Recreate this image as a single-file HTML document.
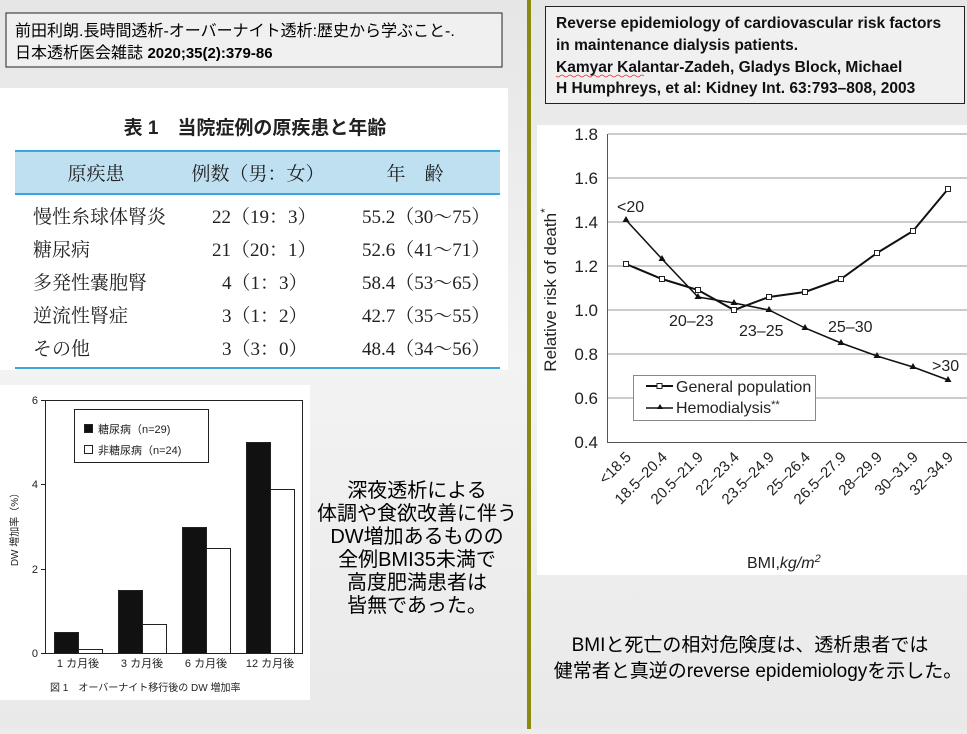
<!DOCTYPE html>
<html><head><meta charset="utf-8"><style>
html,body{margin:0;padding:0;}
body{width:967px;height:729px;overflow:hidden;background:#ececec;}
</style></head><body>
<svg width="967" height="729" viewBox="0 0 967 729" xmlns="http://www.w3.org/2000/svg" style="font-family:'Liberation Sans','Noto Sans CJK JP',sans-serif">
<defs><linearGradient id="bg" x1="0" y1="0" x2="0" y2="1"><stop offset="0" stop-color="#e6e6e6"/><stop offset="0.5" stop-color="#f3f3f3"/><stop offset="1" stop-color="#e9e9e9"/></linearGradient></defs>
<rect width="967" height="729" fill="url(#bg)"/>
<rect x="527" y="0" width="4" height="729" fill="#8a8a10"/>

<!-- left header -->
<rect x="6" y="13" width="496" height="54" fill="#f0f0f0" stroke="#222" stroke-width="1"/>
<text x="15" y="36" font-size="16" fill="#000">前田利朗.長時間透析-オーバーナイト透析:歴史から学ぶこと-.</text>
<text x="15" y="58" font-size="16" fill="#000">日本透析医会雑誌 <tspan font-weight="bold" font-size="15">2020;35(2):379-86</tspan></text>

<!-- table image -->
<rect x="0" y="88" width="508" height="282" fill="#fff"/>
<text x="255" y="134" font-size="19" text-anchor="middle" font-weight="bold" fill="#222">表 1　当院症例の原疾患と年齢</text>
<rect x="15" y="150" width="485" height="45" fill="#bfe0f0"/>
<line x1="15" y1="151" x2="500" y2="151" stroke="#3aa7dc" stroke-width="2"/>
<line x1="15" y1="194" x2="500" y2="194" stroke="#3aa7dc" stroke-width="2"/>
<line x1="15" y1="368" x2="500" y2="368" stroke="#3aa7dc" stroke-width="2"/>
<g style="font-family:'Liberation Serif','Noto Serif CJK SC',serif" font-size="19" fill="#222">
<text x="96" y="180" text-anchor="middle">原疾患</text>
<text x="258" y="180" text-anchor="middle">例数（男：女）</text>
<text x="415" y="180" text-anchor="middle">年　齢</text>
<text x="33" y="223">慢性糸球体腎炎</text>
<text x="33" y="256">糖尿病</text>
<text x="33" y="289">多発性嚢胞腎</text>
<text x="33" y="322">逆流性腎症</text>
<text x="33" y="355">その他</text>
<text x="212" y="223">22（19：3）</text>
<text x="212" y="256">21（20：1）</text>
<text x="222" y="289">4（1：3）</text>
<text x="222" y="322">3（1：2）</text>
<text x="222" y="355">3（3：0）</text>
<text x="362" y="223">55.2（30～75）</text>
<text x="362" y="256">52.6（41～71）</text>
<text x="362" y="289">58.4（53～65）</text>
<text x="362" y="322">42.7（35～55）</text>
<text x="362" y="355">48.4（34～56）</text>
</g>

<!-- bar chart -->
<rect x="0" y="385" width="310" height="315" fill="#fff"/>
<g stroke="#222" stroke-width="1" fill="none">
<rect x="45.5" y="400.5" width="257" height="253"/>
<line x1="41" y1="400.5" x2="45" y2="400.5"/><line x1="41" y1="484.5" x2="45" y2="484.5"/><line x1="41" y1="569.5" x2="45" y2="569.5"/><line x1="41" y1="653.5" x2="45" y2="653.5"/>
</g>
<g font-size="11" fill="#222" text-anchor="end">
<text x="38" y="404">6</text><text x="38" y="488">4</text><text x="38" y="573">2</text><text x="38" y="657">0</text>
</g>
<text transform="translate(18,527) rotate(-90)" font-size="10" text-anchor="middle" fill="#222">DW 増加率（%）</text>
<g stroke="#222" stroke-width="1">
<rect x="54.5" y="632.5" width="24" height="21" fill="#111"/>
<rect x="78.5" y="649.5" width="24" height="4" fill="#fff"/>
<rect x="118.5" y="590.5" width="24" height="63" fill="#111"/>
<rect x="142.5" y="624.5" width="24" height="29" fill="#fff"/>
<rect x="182.5" y="527.5" width="24" height="126" fill="#111"/>
<rect x="206.5" y="548.5" width="24" height="105" fill="#fff"/>
<rect x="246.5" y="442.5" width="24" height="211" fill="#111"/>
<rect x="270.5" y="489.5" width="24" height="164" fill="#fff"/>
<rect x="74.5" y="409.5" width="134" height="53" fill="#fff"/>
<rect x="84.5" y="424.5" width="8" height="8" fill="#111"/>
<rect x="84.5" y="445.5" width="8" height="8" fill="#fff"/>
</g>
<g font-size="11" fill="#222">
<text x="98" y="433">糖尿病（n=29)</text>
<text x="98" y="454">非糖尿病（n=24)</text>
<text x="78" y="667" text-anchor="middle">1 カ月後</text>
<text x="142" y="667" text-anchor="middle">3 カ月後</text>
<text x="206" y="667" text-anchor="middle">6 カ月後</text>
<text x="270" y="667" text-anchor="middle">12 カ月後</text>
<text x="50" y="691" font-size="10">図 1　オーバーナイト移行後の DW 増加率</text>
</g>

<!-- middle text -->
<g font-size="20" fill="#000" text-anchor="middle">
<text x="417" y="497">深夜透析による</text>
<text x="417" y="520">体調や食欲改善に伴う</text>
<text x="417" y="543">DW増加あるものの</text>
<text x="417" y="566">全例BMI35未満で</text>
<text x="417" y="589">高度肥満患者は</text>
<text x="417" y="612">皆無であった。</text>
</g>

<!-- right header -->
<rect x="545.5" y="6.5" width="419" height="97" fill="#f0f0f0" stroke="#222" stroke-width="1"/>
<g font-size="15.5" font-weight="bold" fill="#111">
<text x="556" y="28">Reverse epidemiology of cardiovascular risk factors</text>
<text x="556" y="50">in maintenance dialysis patients.</text>
<text x="556" y="72">Kamyar Kalantar-Zadeh, Gladys Block, Michael</text>
<text x="556" y="93">H Humphreys, et al: Kidney Int. 63:793–808, 2003</text>
</g>
<path d="M556 76 q2 2 4 0 t4 0 t4 0 t4 0 t4 0 t4 0 t4 0 t4 0 t4 0 t4 0 t4 0 t4 0 t4 0 t4 0 t4 0 t4 0 t4 0 t4 0 t4 0 t4 0 t4 0 t4 0" stroke="#d33" fill="none" stroke-width="0.8"/>

<!-- right chart -->
<rect x="537" y="125" width="430" height="450" fill="#fff"/>
<g stroke="#999" stroke-width="1">
<line x1="608" y1="178" x2="967" y2="178"/>
<line x1="608" y1="222" x2="967" y2="222"/>
<line x1="608" y1="266" x2="967" y2="266"/>
<line x1="608" y1="310" x2="967" y2="310"/>
<line x1="608" y1="354" x2="967" y2="354"/>
<line x1="608" y1="398" x2="967" y2="398"/>
<line x1="608" y1="134" x2="967" y2="134"/>
</g>
<line x1="607.5" y1="134" x2="607.5" y2="442" stroke="#555"/>
<line x1="607" y1="442.5" x2="967" y2="442.5" stroke="#555"/>
<g font-size="17" fill="#222" text-anchor="end">
<text x="598" y="140">1.8</text><text x="598" y="184">1.6</text><text x="598" y="228">1.4</text><text x="598" y="272">1.2</text><text x="598" y="316">1.0</text><text x="598" y="360">0.8</text><text x="598" y="404">0.6</text><text x="598" y="448">0.4</text>
</g>
<text transform="translate(556,290) rotate(-90)" font-size="17" fill="#222" text-anchor="middle">Relative risk of death<tspan dy="-7" font-size="12">*</tspan></text>
<polyline fill="none" stroke="#111" stroke-width="2" points="626,264 662,279 698,290 734,310 769,297 805,292 841,279 877,253 913,231 948,189"/>
<polyline fill="none" stroke="#111" stroke-width="1.5" points="626,220 662,259 698,297 734,303 769,310 805,328 841,343 877,356 913,367 948,380"/>
<g fill="#fff" stroke="#222" stroke-width="1">
<rect x="623.5" y="261.5" width="5" height="5"/><rect x="659.5" y="276.5" width="5" height="5"/><rect x="695.5" y="287.5" width="5" height="5"/><rect x="731.5" y="307.5" width="5" height="5"/><rect x="766.5" y="294.5" width="5" height="5"/><rect x="802.5" y="289.5" width="5" height="5"/><rect x="838.5" y="276.5" width="5" height="5"/><rect x="874.5" y="250.5" width="5" height="5"/><rect x="910.5" y="228.5" width="5" height="5"/><rect x="945.5" y="186.5" width="5" height="5"/>
</g>
<g fill="#111">
<path d="M626,216 l-3.5,6 h7z"/><path d="M662,255 l-3.5,6 h7z"/><path d="M698,293 l-3.5,6 h7z"/><path d="M734,299 l-3.5,6 h7z"/><path d="M769,306 l-3.5,6 h7z"/><path d="M805,324 l-3.5,6 h7z"/><path d="M841,339 l-3.5,6 h7z"/><path d="M877,352 l-3.5,6 h7z"/><path d="M913,363 l-3.5,6 h7z"/><path d="M948,376 l-3.5,6 h7z"/>
</g>
<g font-size="16" fill="#222">
<text x="617" y="212">&lt;20</text>
<text x="669" y="326">20–23</text>
<text x="739" y="336">23–25</text>
<text x="828" y="332">25–30</text>
<text x="932" y="371">&gt;30</text>
</g>
<rect x="633.5" y="375.5" width="182" height="45" fill="#fff" stroke="#888"/>
<line x1="646" y1="386" x2="673" y2="386" stroke="#111" stroke-width="2"/>
<rect x="657" y="383.5" width="5" height="5" fill="#fff" stroke="#222"/>
<line x1="646" y1="408" x2="673" y2="408" stroke="#111" stroke-width="1.5"/>
<path d="M660,404 l-3,5 h6z" fill="#111"/>
<text x="676" y="392" font-size="16" fill="#222">General population</text>
<text x="676" y="413" font-size="16" fill="#222">Hemodialysis<tspan font-size="11" dy="-5">**</tspan></text>
<g font-size="15" fill="#222" text-anchor="end">
<text transform="translate(632,458) rotate(-45)">&lt;18.5</text>
<text transform="translate(668,458) rotate(-45)">18.5–20.4</text>
<text transform="translate(704,458) rotate(-45)">20.5–21.9</text>
<text transform="translate(740,458) rotate(-45)">22–23.4</text>
<text transform="translate(775,458) rotate(-45)">23.5–24.9</text>
<text transform="translate(811,458) rotate(-45)">25–26.4</text>
<text transform="translate(847,458) rotate(-45)">26.5–27.9</text>
<text transform="translate(883,458) rotate(-45)">28–29.9</text>
<text transform="translate(919,458) rotate(-45)">30–31.9</text>
<text transform="translate(954,458) rotate(-45)">32–34.9</text>
</g>
<text x="747" y="568" font-size="16" fill="#222">BMI,<tspan font-style="italic">kg/m</tspan><tspan font-style="italic" font-size="11" dy="-6">2</tspan></text>

<!-- bottom right text -->
<g font-size="19" fill="#000" text-anchor="middle">
<text x="750" y="651">BMIと死亡の相対危険度は、透析患者では</text>
<text x="758" y="677">健常者と真逆のreverse epidemiologyを示した。</text>
</g>
</svg>
</body></html>
